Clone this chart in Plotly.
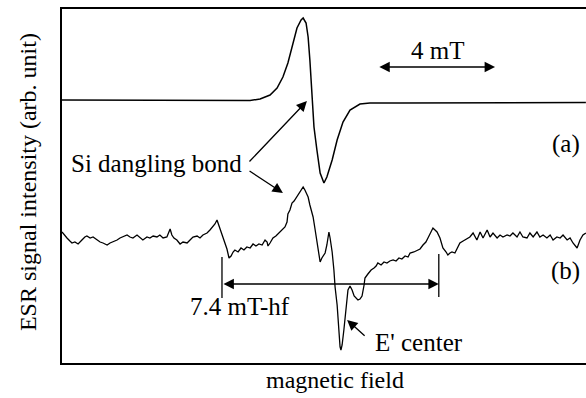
import plotly.graph_objects as go

# ---- data (field in mT, intensity in arb. units) ----
field_a = [0, 3.00, 5.39, 6.08, 6.42, 6.76, 7.10, 7.34, 7.54, 7.71, 7.88, 8.02, 8.16, 8.23,
           8.33, 8.40, 8.46, 8.53, 8.60, 8.70, 8.81, 8.94, 9.04, 9.22, 9.39, 9.59, 9.83,
           10.17, 10.51, 11.54, 13.24, 14.95, 17.88]
signal_a = [263, 263, 263, 263, 262.5, 264, 268, 275, 286, 300, 320, 335, 343, 345,
            340, 326, 303, 270, 236, 213, 190, 180, 186, 203, 223, 241, 253,
            259, 260, 260, 260, 260.5, 260.5]

field_b = [0.00, 0.10, 0.17, 0.27, 0.34, 0.44, 0.55, 0.68, 0.78, 0.85, 0.96, 1.06, 1.19, 1.30,
           1.40, 1.54, 1.64, 1.74, 1.88, 1.98, 2.08, 2.22, 2.32, 2.42, 2.56, 2.66, 2.76, 2.90,
           3.00, 3.11, 3.24, 3.34, 3.45, 3.58, 3.65, 3.69, 3.75, 3.82, 3.92, 4.03, 4.13, 4.27,
           4.37, 4.47, 4.61, 4.71, 4.81, 4.95, 5.05, 5.15, 5.22, 5.29, 5.36, 5.43, 5.49, 5.56,
           5.63, 5.70, 5.77, 5.84, 5.90, 6.01, 6.11, 6.21, 6.31, 6.42, 6.52, 6.62, 6.72, 6.83,
           6.93, 7.00, 7.03, 7.10, 7.20, 7.30, 7.41, 7.51, 7.61, 7.68, 7.71, 7.78, 7.85, 7.92,
           7.99, 8.05, 8.12, 8.23, 8.29, 8.40, 8.46, 8.57, 8.63, 8.70, 8.77, 8.81, 8.87, 8.98,
           9.04, 9.11, 9.15, 9.22, 9.28, 9.32, 9.39, 9.42, 9.45, 9.49, 9.52, 9.56, 9.62, 9.69,
           9.76, 9.83, 9.90, 9.97, 10.03, 10.10, 10.17, 10.24, 10.31, 10.34, 10.44, 10.55,
           10.65, 10.72, 10.78, 10.89, 10.99, 11.09, 11.19, 11.30, 11.40, 11.50, 11.60, 11.71,
           11.81, 11.88, 12.01, 12.12, 12.22, 12.32, 12.42, 12.49, 12.59, 12.66, 12.73, 12.80,
           12.90, 13.00, 13.11, 13.17, 13.24, 13.31, 13.41, 13.52, 13.58, 13.69, 13.75, 13.86,
           13.92, 14.03, 14.16, 14.27, 14.37, 14.51, 14.61, 14.71, 14.85, 14.95, 15.05, 15.19,
           15.29, 15.39, 15.53, 15.63, 15.73, 15.87, 15.97, 16.08, 16.21, 16.31, 16.42, 16.55,
           16.66, 16.76, 16.89, 17.00, 17.10, 17.24, 17.34, 17.44, 17.58, 17.68, 17.78, 17.88]
signal_b = [131, 127, 125, 122, 120, 121, 119, 123, 126, 127, 125, 126, 123, 121,
            120, 118, 120, 121, 123, 125, 126, 128, 126, 125, 128, 125, 123, 126,
            125, 127, 126, 128, 125, 126, 132, 134, 128, 125, 123, 119, 121, 120,
            123, 126, 127, 125, 128, 130, 133, 136, 139, 143, 137, 131, 125, 120,
            114, 105, 107, 111, 113, 111, 115, 113, 116, 115, 119, 117, 119, 118,
            123, 121, 117, 120, 125, 127, 130, 133, 136, 141, 149, 153, 160, 162,
            165, 167, 170, 176, 173, 166, 158, 146, 135, 123, 108, 101, 105, 110,
            118, 131, 125, 111, 93, 76, 58, 43, 28, 16, 13, 18, 33, 53,
            73, 77, 73, 67, 65, 63, 64, 67, 78, 85, 89, 93,
            95, 97, 100, 98, 101, 100, 102, 103, 102, 105, 104, 107,
            106, 110, 111, 113, 114, 118, 121, 125, 131, 135, 133, 131,
            125, 115, 111, 108, 110, 111, 110, 116, 120, 122, 123, 125,
            126, 130, 123, 131, 125, 133, 126, 130, 125, 128, 126, 128,
            127, 130, 126, 131, 126, 125, 130, 126, 131, 126, 128, 125,
            128, 123, 126, 125, 128, 123, 125, 120, 115, 123, 128, 130]

scale_bar_mT = [10.78, 14.78]          # "4 mT"
hf_split_mT = [5.46, 12.86]            # "7.4 mT-hf"

FONT = "Liberation Serif, Times New Roman, serif"
BLACK = "#000000"

fig = go.Figure()
fig.add_trace(go.Scatter(x=field_a, y=signal_a, mode="lines",
                         line=dict(color=BLACK, width=1.5), showlegend=False, hoverinfo="skip"))
fig.add_trace(go.Scatter(x=field_b, y=signal_b, mode="lines",
                         line=dict(color=BLACK, width=1.3), showlegend=False, hoverinfo="skip"))

# hyperfine bracket vertical ticks
fig.add_trace(go.Scatter(x=[hf_split_mT[0], hf_split_mT[0], None, hf_split_mT[1], hf_split_mT[1]],
                         y=[106, 65, None, 109, 66], mode="lines",
                         line=dict(color=BLACK, width=1.3), showlegend=False, hoverinfo="skip"))

def darrow(x0, x1, y):
    return dict(x=x1, y=y, ax=x0, ay=y, xref="x", yref="y", axref="x", ayref="y",
                text="", showarrow=True, arrowhead=2, arrowsize=1.6, arrowwidth=1.3,
                arrowside="end+start", arrowcolor=BLACK)

def arrow(x0, y0, x1, y1):
    return dict(x=x1, y=y1, ax=x0, ay=y0, xref="x", yref="y", axref="x", ayref="y",
                text="", showarrow=True, arrowhead=2, arrowsize=1.6, arrowwidth=1.3,
                arrowcolor=BLACK)

def label(x, y, t, xanchor="center", size=25):
    return dict(x=x, y=y, xref="x", yref="y", text=t, showarrow=False,
                xanchor=xanchor, yanchor="middle", font=dict(family=FONT, size=size, color=BLACK))

ann = [
    darrow(scale_bar_mT[0], scale_bar_mT[1], 296),
    label(12.80, 313, "4 mT"),
    darrow(hf_split_mT[0], hf_split_mT[1], 79),
    label(6.08, 57, "7.4 mT-hf"),
    label(3.23, 200, "Si dangling bond"),
    arrow(6.35, 200, 8.36, 262),
    arrow(6.35, 193, 7.54, 170),
    label(12.18, 21, "E' center"),
    arrow(10.38, 26, 9.73, 43),
    label(17.75, 219, "(a)", xanchor="right"),
    label(17.75, 92, "(b)", xanchor="right"),
    dict(x=-0.065, y=0.511, xref="paper", yref="paper", text="ESR signal intensity (arb. unit)",
         textangle=-90, showarrow=False, xanchor="center", yanchor="middle",
         font=dict(family=FONT, size=24, color=BLACK)),
    dict(x=0.521, y=-0.048, xref="paper", yref="paper", text="magnetic field",
         showarrow=False, xanchor="center", yanchor="middle",
         font=dict(family=FONT, size=24, color=BLACK)),
]

fig.update_layout(
    width=586, height=398,
    margin=dict(l=62, r=0, t=9, b=35),
    paper_bgcolor="white", plot_bgcolor="white",
    annotations=ann,
    xaxis=dict(range=[0, 17.884], showgrid=False, zeroline=False, showticklabels=False,
               ticks="", showline=True, mirror=True, linecolor=BLACK, linewidth=2, fixedrange=True),
    yaxis=dict(range=[0, 354], showgrid=False, zeroline=False, showticklabels=False,
               ticks="", showline=True, mirror=False, linecolor=BLACK, linewidth=2, fixedrange=True),
)

fig.write_html("out.html", config={"displayModeBar": False})
